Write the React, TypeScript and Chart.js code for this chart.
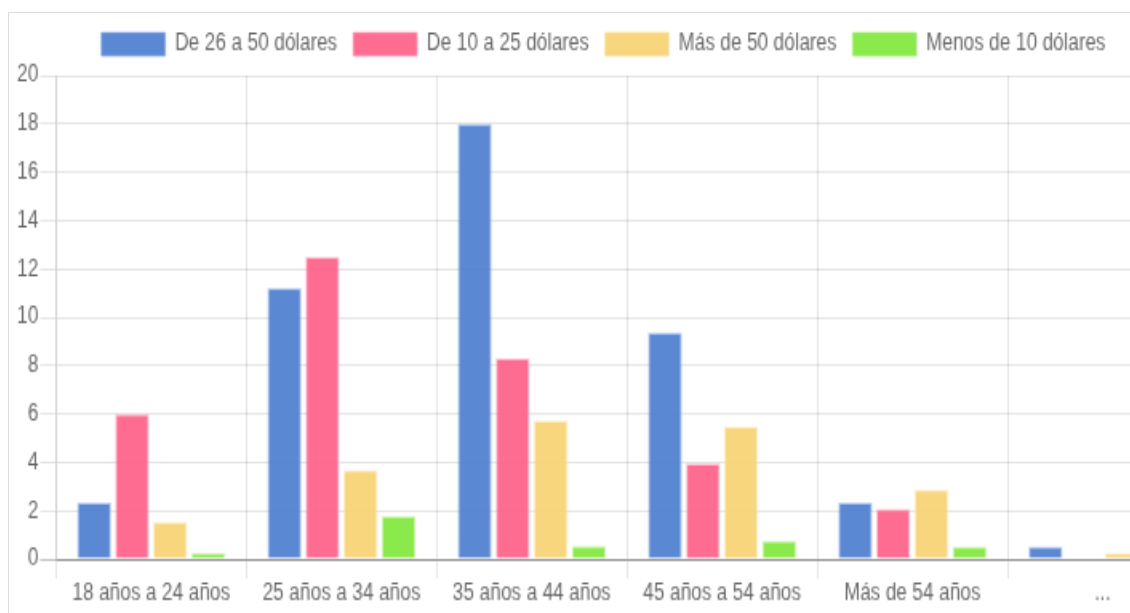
import React, { useEffect, useRef } from "react";
import { Chart, registerables } from "chart.js";

Chart.register(...registerables);

const categories = [
  "18 años a 24 años",
  "25 años a 34 años",
  "35 años a 44 años",
  "45 años a 54 años",
  "Más de 54 años",
  "...",
];

const seriesNames = [
  "De 26 a 50 dólares",
  "De 10 a 25 dólares",
  "Más de 50 dólares",
  "Menos de 10 dólares",
];

const de26a50 = [2.34, 11.2, 18.0, 9.37, 2.34, 0.53];
const de10a25 = [6.0, 12.5, 8.3, 3.96, 2.07, 0];
const masDe50 = [1.54, 3.68, 5.72, 5.49, 2.88, 0.27];
const menosDe10 = [0.27, 1.78, 0.54, 0.76, 0.53, 0];

const yTicksMax = 20;
const yTickStep = 2;

const fills = [
  "rgba(73,123,206,0.9)",
  "rgba(255,92,134,0.9)",
  "rgba(247,210,112,0.9)",
  "rgba(125,231,55,0.9)",
];
const borders = [
  "rgba(140,175,235,0.6)",
  "rgba(255,160,185,0.6)",
  "rgba(250,228,165,0.6)",
  "rgba(175,240,130,0.6)",
];

const W = 743;
const H = 308;
const SX = 1.6;
const SY = 1.95;

export default function App() {
  const ref = useRef<HTMLCanvasElement | null>(null);

  useEffect(() => {
    if (!ref.current) return;
    const values = [de26a50, de10a25, masDe50, menosDe10];
    const chart = new Chart(ref.current, {
      type: "bar",
      data: {
        labels: categories,
        datasets: seriesNames.map((name, i) => ({
          label: name,
          data: values[i],
          backgroundColor: fills[i],
          borderColor: borders[i],
          borderWidth: 1,
          categoryPercentage: 0.8,
          barPercentage: 0.9,
        })),
      },
      options: {
        animation: false,
        responsive: false,
        devicePixelRatio: 1,
        layout: { padding: 0 },
        font: { family: "'Helvetica Neue', Helvetica, Arial, sans-serif", size: 12 },
        plugins: {
          legend: {
            position: "top",
            labels: {
              boxWidth: 40,
              padding: 10,
              color: "#666",
              font: { size: 12 },
            },
          },
          tooltip: { enabled: false },
        },
        scales: {
          x: {
            grid: {
              offset: true,
              color: "rgba(0,0,0,0.1)",
              tickLength: 10,
              drawTicks: true,
            },
            border: { color: "rgba(0,0,0,0.25)" },
            ticks: {
              color: "#666",
              font: { size: 12 },
              padding: 0,
              maxRotation: 0,
              autoSkip: false,
            },
            afterFit: (s: any) => {
              s.height = 28;
            },
          },
          y: {
            min: 0,
            max: yTicksMax,
            ticks: {
              stepSize: yTickStep,
              color: "#666",
              font: { size: 12 },
              padding: 1,
            },
            grid: {
              color: (ctx: any) =>
                ctx.tick && ctx.tick.value === 0 ? "rgba(0,0,0,0.25)" : "rgba(0,0,0,0.1)",
              tickLength: 10,
            },
            border: { color: "rgba(0,0,0,0.1)" },
            afterFit: (s: any) => {
              s.width = 29.4;
            },
          },
        },
      },
    });
    return () => chart.destroy();
  }, []);

  return (
    <div
      style={{
        position: "absolute",
        left: 8,
        top: 12,
        width: 1122,
        height: 601,
        overflow: "hidden",
        borderTop: "1px solid #ddd",
        borderLeft: "1px solid #ddd",
        boxSizing: "border-box",
        background: "#fff",
      }}
    >
      <div
        style={{
          width: W,
          height: H,
          transform: `scale(${SX}, ${SY})`,
          transformOrigin: "0 0",
        }}
      >
        <canvas ref={ref} width={W} height={H} style={{ display: "block" }} />
      </div>
    </div>
  );
}
